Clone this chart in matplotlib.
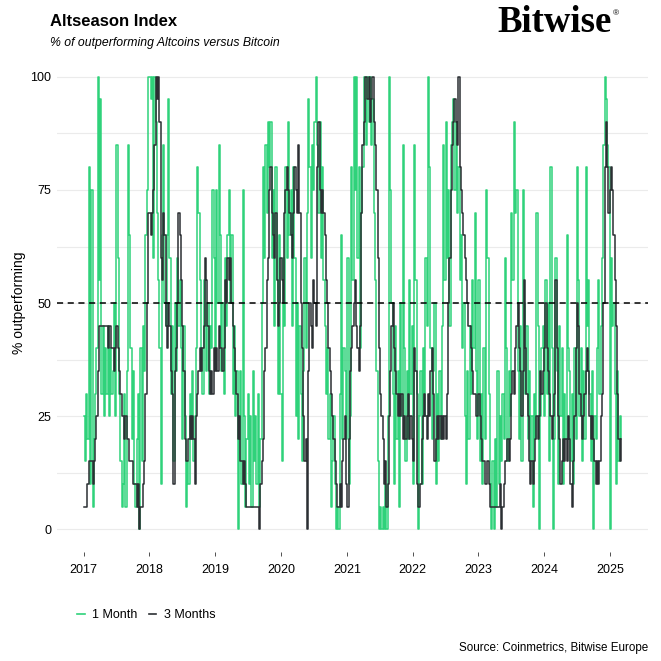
import numpy as np
import pandas as pd
import matplotlib
matplotlib.use('Agg')
import matplotlib.pyplot as plt
from matplotlib.lines import Line2D

plt.rcParams['font.family'] = ['Liberation Sans', 'DejaVu Sans']

# weekly readings (% of altcoins outperforming BTC), one list per year
# 3 month window
m3_2017 = [5, 5, 5, 10, 15, 15, 15, 10, 15, 20, 25, 35, 45, 45, 45, 45, 45, 45, 45, 40, 45, 45, 40, 40, 35, 40,
           45, 40, 35, 30, 25, 25, 20, 25, 20, 20, 15, 15, 15, 10, 10, 10, 5, 10, 0, 5, 5, 10, 15, 30, 50, 70]
m3_2018 = [70, 65, 70, 75, 85, 100, 95, 100, 90, 60, 55, 70, 65, 45, 40, 50, 45, 35, 30, 10, 35, 40, 50, 70, 65, 55,
           45, 35, 20, 15, 15, 20, 25, 20, 25, 20, 10, 25, 30, 35, 40, 35, 40, 45, 60, 55, 45, 35, 30, 35, 30, 40]
m3_2019 = [35, 40, 35, 45, 40, 40, 35, 40, 55, 50, 60, 55, 60, 50, 45, 40, 35, 30, 20, 25, 15, 15, 10, 15, 10, 5,
           5, 5, 5, 5, 5, 5, 5, 5, 5, 0, 10, 15, 20, 35, 40, 55, 60, 75, 80, 70, 65, 60, 70, 55, 45, 50]
m3_2020 = [60, 55, 50, 70, 75, 80, 75, 70, 65, 60, 70, 80, 75, 70, 85, 70, 50, 40, 25, 15, 20, 0, 35, 50, 45, 40,
           55, 50, 45, 80, 90, 75, 70, 75, 70, 65, 55, 50, 40, 35, 30, 25, 20, 15, 10, 5, 5, 10, 5, 15, 20, 25]
m3_2021 = [10, 5, 20, 35, 40, 45, 50, 55, 45, 40, 35, 45, 70, 85, 90, 100, 100, 95, 100, 90, 95, 100, 90, 85, 75, 60,
           40, 30, 25, 20, 10, 15, 5, 10, 25, 35, 45, 50, 40, 35, 30, 25, 30, 25, 30, 20, 25, 20, 25, 30, 20, 25]
m3_2022 = [20, 15, 40, 35, 10, 5, 5, 10, 20, 25, 30, 25, 20, 30, 25, 35, 40, 30, 15, 20, 25, 20, 25, 20, 25, 20,
           25, 20, 30, 50, 60, 75, 85, 90, 95, 90, 85, 100, 80, 75, 70, 65, 60, 55, 50, 45, 45, 40, 35, 30, 30, 25]
m3_2023 = [25, 30, 25, 20, 15, 15, 10, 10, 15, 10, 5, 5, 5, 5, 5, 5, 5, 5, 10, 0, 5, 10, 15, 15, 20, 15,
           20, 30, 35, 30, 40, 45, 50, 40, 35, 25, 35, 55, 40, 30, 25, 15, 10, 15, 10, 15, 20, 25, 20, 25, 35, 30]
m3_2024 = [35, 40, 50, 40, 35, 30, 25, 20, 25, 30, 55, 40, 25, 20, 10, 15, 20, 15, 20, 15, 25, 20, 10, 5, 15, 25,
           40, 50, 45, 30, 25, 20, 25, 30, 35, 40, 35, 25, 20, 25, 20, 15, 10, 15, 10, 15, 25, 30, 50, 80, 90, 80]
m3_2025 = [70, 75, 80, 75, 65, 55, 45, 30, 20, 15, 20]

# 1 month window
m1_2017 = [25, 15, 30, 20, 80, 10, 75, 5, 20, 30, 40, 100, 55, 95, 30, 45, 25, 40, 30, 45, 25, 40, 30, 35, 50, 25,
           85, 60, 30, 15, 5, 10, 30, 5, 35, 85, 65, 40, 20, 35, 10, 5, 20, 30, 0, 40, 15, 45, 35, 65, 75, 100]
m1_2018 = [100, 95, 100, 60, 100, 90, 70, 55, 40, 10, 65, 85, 50, 45, 65, 95, 60, 30, 45, 15, 50, 35, 60, 45, 55, 40,
           20, 45, 25, 5, 15, 10, 30, 20, 35, 15, 25, 40, 80, 70, 55, 40, 30, 55, 45, 35, 50, 30, 45, 40, 75, 60]
m1_2019 = [40, 75, 50, 85, 65, 35, 50, 30, 60, 45, 65, 75, 50, 65, 30, 45, 25, 35, 0, 20, 35, 10, 75, 25, 5, 20,
           30, 10, 25, 5, 35, 15, 25, 10, 30, 5, 20, 50, 80, 60, 85, 70, 90, 80, 90, 60, 75, 45, 80, 55, 30, 65]
m1_2020 = [30, 15, 60, 45, 80, 60, 90, 65, 75, 45, 80, 60, 25, 50, 20, 45, 30, 15, 35, 60, 40, 70, 95, 80, 60, 85,
           75, 90, 100, 85, 70, 90, 60, 80, 55, 45, 30, 40, 20, 30, 5, 15, 25, 10, 0, 5, 0, 30, 65, 20, 40, 35]
m1_2021 = [20, 60, 10, 25, 80, 55, 100, 75, 100, 60, 80, 40, 70, 80, 100, 95, 85, 100, 90, 100, 85, 95, 70, 55, 35, 15,
           0, 5, 0, 5, 0, 10, 0, 25, 100, 75, 50, 30, 10, 45, 20, 35, 5, 50, 25, 85, 40, 15, 35, 20, 55, 30]
m1_2022 = [45, 10, 85, 55, 30, 0, 25, 35, 10, 40, 25, 60, 45, 100, 80, 40, 20, 35, 50, 10, 30, 15, 35, 20, 45, 85,
           55, 90, 60, 75, 45, 85, 90, 95, 75, 90, 70, 80, 55, 65, 40, 50, 25, 10, 35, 20, 45, 30, 55, 40, 70, 35]
m1_2023 = [20, 55, 15, 30, 10, 40, 20, 75, 60, 30, 10, 0, 15, 0, 20, 5, 35, 10, 25, 15, 30, 20, 60, 40, 15, 35,
           25, 70, 55, 90, 70, 75, 35, 20, 45, 15, 75, 50, 30, 45, 20, 35, 15, 25, 5, 30, 20, 70, 45, 0, 25, 40]
m1_2024 = [45, 25, 55, 30, 50, 15, 80, 40, 0, 20, 60, 35, 10, 45, 25, 40, 10, 30, 20, 65, 40, 35, 15, 30, 10, 40,
           20, 80, 55, 25, 40, 15, 35, 20, 80, 45, 55, 30, 15, 35, 0, 25, 20, 40, 55, 30, 45, 60, 85, 100, 95, 85]
m1_2025 = [80, 0, 60, 45, 50, 30, 10, 35, 15, 25, 20]

m3 = m3_2017 + m3_2018 + m3_2019 + m3_2020 + m3_2021 + m3_2022 + m3_2023 + m3_2024 + m3_2025
m1 = m1_2017 + m1_2018 + m1_2019 + m1_2020 + m1_2021 + m1_2022 + m1_2023 + m1_2024 + m1_2025
dates = pd.date_range('2017-01-01', periods=len(m1), freq='7D')

green = '#2fd27a'
dark = '#2b2f33'

fig = plt.figure(figsize=(6.61, 6.61), dpi=100)
ax = fig.add_axes([0.086, 0.165, 0.894, 0.753])

ax.plot(dates, m1, color=green, lw=1.1, drawstyle='steps-post', zorder=2)
ax.plot(dates, m3, color=dark, lw=1.1, drawstyle='steps-post', zorder=3)
ax.axhline(50, color='black', lw=1.1, ls=(0, (4, 3)), zorder=4)

span = dates[-1] - dates[0]
ax.set_xlim(dates[0] - span * 0.05, dates[-1] + span * 0.05)
ax.set_ylim(-5, 105)

years = pd.to_datetime([f'{y}-01-01' for y in range(2017, 2026)])
ax.set_xticks(years)
ax.set_xticklabels([str(y) for y in range(2017, 2026)])
ax.set_yticks([0, 25, 50, 75, 100])
ax.set_yticks([12.5, 37.5, 62.5, 87.5], minor=True)
ax.grid(axis='y', which='both', color='#ebebeb', lw=0.8)
ax.grid(axis='x', visible=False)
ax.set_axisbelow(True)
for s in ax.spines.values():
    s.set_visible(False)
ax.tick_params(axis='y', which='both', length=0, labelsize=9, pad=4, colors='black')
ax.tick_params(axis='x', length=3, width=0.6, labelsize=9, pad=6, color='#333333')
ax.set_ylabel('% outperforming', fontsize=10, labelpad=3)

fig.text(50 / 661, 1 - 21 / 661, 'Altseason Index', fontsize=12, fontweight='bold', va='center')
fig.text(50 / 661, 1 - 43 / 661, '% of outperforming Altcoins versus Bitcoin', fontsize=8.8, style='italic', va='center')
fig.text(497 / 661, 1 - 22 / 661, 'Bitwise', fontsize=26.5, fontweight='bold',
         family=['Liberation Serif', 'DejaVu Serif'], va='center')
fig.text(613 / 661, 1 - 14 / 661, '®', fontsize=6, va='center')
fig.text(648 / 661, 1 - 648 / 661, 'Source: Coinmetrics, Bitwise Europe', fontsize=8.4, ha='right', va='center')

handles = [Line2D([], [], color=green, lw=1.2), Line2D([], [], color=dark, lw=1.2)]
fig.legend(handles, ['1 Month', '3 Months'], loc='center left', bbox_to_anchor=(66 / 661, 1 - 615 / 661),
           ncol=2, frameon=False, fontsize=9, handlelength=0.6, handletextpad=0.6, columnspacing=0.9)

fig.savefig('out.png', dpi=100)
